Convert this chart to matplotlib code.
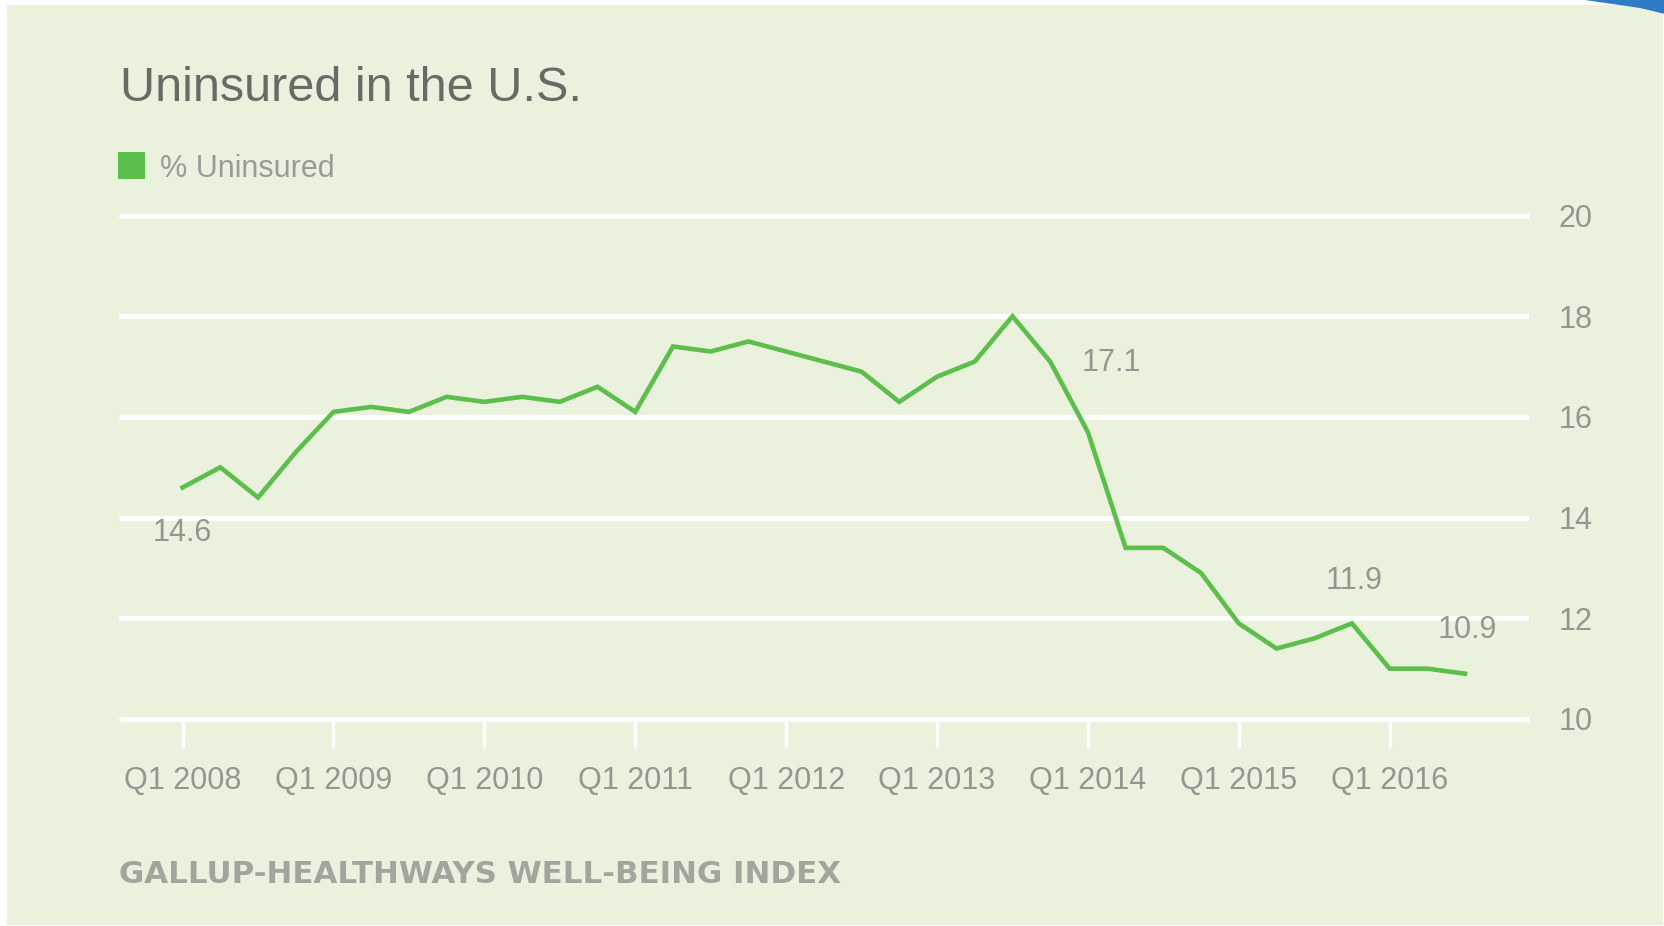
import matplotlib
matplotlib.use("Agg")
import matplotlib.pyplot as plt
from matplotlib.patches import Rectangle, Polygon

# % uninsured, Q1 2008 .. Q3 2016 (quarterly)
quarters = list(range(35))
uninsured = [14.6, 15.0, 14.4, 15.3, 16.1, 16.2, 16.1, 16.4, 16.3, 16.4,
             16.3, 16.6, 16.1, 17.4, 17.3, 17.5, 17.3, 17.1, 16.9, 16.3,
             16.8, 17.1, 18.0, 17.1, 15.7, 13.4, 13.4, 12.9, 11.9, 11.4,
             11.6, 11.9, 11.0, 11.0, 10.9]
tick_pos = [0, 4, 8, 12, 16, 20, 24, 28, 32]
tick_labels = ["Q1 2008", "Q1 2009", "Q1 2010", "Q1 2011", "Q1 2012",
               "Q1 2013", "Q1 2014", "Q1 2015", "Q1 2016"]
y_ticks = [10, 12, 14, 16, 18, 20]
# which points get a value label, and offset in pixels
labelled = {0: (0, -46), 23: (31, -1), 31: (2, 42), 34: (2, 44)}

W, H = 1665, 926
BG = "#EAF2DE"
GREEN = "#5CBE4B"
GREY = "#92978F"
FONT = "Liberation Sans"

fig = plt.figure(figsize=(W / 100, H / 100), dpi=100, facecolor="white")

# Hintergrund-Karte (px -> figure fraction)
def px(x, y):
    return (x / W, 1 - y / H)

fig.patches.append(Rectangle(px(7, 925), (1663 - 7) / W, (925 - 5) / H,
                             transform=fig.transFigure, facecolor=BG,
                             edgecolor="none", zorder=-10))
# kleine blaue Ecke oben rechts
fig.patches.append(Polygon([px(1585, 0), px(1665, 0), px(1665, 14), px(1640, 8)],
                           closed=True, transform=fig.transFigure,
                           facecolor="#2E7CC6", edgecolor="none", zorder=-9))

# Achsen: y=20 bei 215.6 px, y=10 bei 719 px
ppu = (719 - 215.6) / 10
y_lo = 10 - 29 / ppu
y_hi = 20.6
top_px = 215.6 - (y_hi - 20) * ppu
bot_px = 719 + (10 - y_lo) * ppu
left_px, right_px = 119, 1529
ax = fig.add_axes([left_px / W, 1 - bot_px / H, (right_px - left_px) / W,
                   (bot_px - top_px) / H])
ax.set_facecolor("none")
ax.set_zorder(2)

dx = 37.72
x_lo = -(182.6 - left_px) / dx
x_hi = (right_px - 182.6) / dx
ax.set_xlim(x_lo, x_hi)
ax.set_ylim(y_lo, y_hi)

for s in ax.spines.values():
    s.set_visible(False)

for yv in y_ticks:
    ax.axhline(yv, color="white", lw=3.6, zorder=1, solid_capstyle="butt")

ax.plot(quarters, uninsured, color=GREEN, lw=3.3, zorder=3,
        solid_joinstyle="miter")

for i, (ox, oy) in labelled.items():
    ha = "left" if ox > 10 else "center"
    ax.annotate(f"{uninsured[i]:.1f}", (quarters[i], uninsured[i]),
                xytext=(ox, oy), textcoords="offset pixels",
                ha=ha, va="center", fontsize=22, color=GREY, family=FONT)

ax.set_xticks(tick_pos)
ax.set_xticklabels(tick_labels, family=FONT, fontsize=22, color=GREY)
ax.tick_params(axis="x", direction="in", length=29 * 0.72, width=2.4,
               color="white", pad=13)
ax.yaxis.tick_right()
ax.set_yticks(y_ticks)
ax.set_yticklabels([str(v) for v in y_ticks], family=FONT, fontsize=22,
                   color=GREY)
ax.tick_params(axis="y", length=0, pad=21)

# Titel, Legende, Quelle
fig.text(120 / W, 1 - 101 / H, "Uninsured in the U.S.", family=FONT,
         fontsize=35, color="#666B66", va="baseline", ha="left")
fig.patches.append(Rectangle(px(118, 179), 27 / W, 27 / H,
                             transform=fig.transFigure, facecolor=GREEN,
                             edgecolor="none"))
fig.text(160 / W, 1 - 177 / H, "% Uninsured", family=FONT, fontsize=22,
         color="#979C95", va="baseline", ha="left")
fig.text(119 / W, 1 - 883 / H, "GALLUP-HEALTHWAYS WELL-BEING INDEX",
         family="DejaVu Sans", fontweight="bold", fontsize=22.2,
         color="#A0A59E", va="baseline", ha="left")

fig.savefig("out.png", dpi=100, facecolor="white")
